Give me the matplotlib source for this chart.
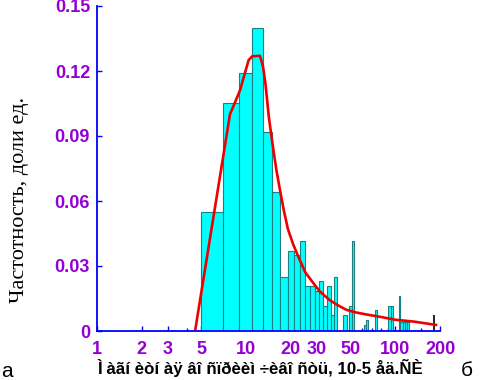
import numpy as np
from matplotlib import pyplot as plt

# histogram bins (left edge, right edge, frequency)
bin_left = [5, 7, 9, 11, 13, 15, 17, 19, 21, 23, 25, 27, 29, 31, 33, 35, 37, 39,
            45, 49, 51.3, 62, 64, 73.5, 89.8, 93.3, 105.5, 108.3, 112.1, 116.7, 121]
bin_right = [7, 9, 11, 13, 15, 17, 19, 21, 23, 25, 27, 29, 31, 33, 35, 37, 39, 41,
             47.5, 51.3, 53.2, 64, 66, 76, 93.3, 97.3, 108.3, 112.1, 116.7, 121, 124.4]
freq = [0.055, 0.105, 0.119, 0.14, 0.092, 0.064, 0.025, 0.037, 0.035, 0.0415,
        0.021, 0.021, 0.0185, 0.023, 0.0115, 0.021, 0.0074, 0.025,
        0.0074, 0.0115, 0.0415, 0.0028, 0.005, 0.0097, 0.0115, 0.0115,
        0.016, 0.004, 0.004, 0.004, 0.004]

# black marker line at the end
mark_x = 183
mark_h = 0.0074

# fitted curve
fit_x = [4.55, 7.8, 9.1, 10.4, 11.0, 12.4, 13.0, 13.5, 14.2, 15.0, 16.0, 17.0, 18.0,
         19.1, 20.7, 22.5, 25, 28, 31, 36, 41, 47, 55, 67, 83, 100, 135, 188]
fit_y = [0, 0.1, 0.111, 0.125, 0.1268, 0.127, 0.122, 0.114, 0.099, 0.087, 0.074,
         0.064, 0.055, 0.047, 0.040, 0.034, 0.027, 0.0225, 0.0185, 0.0145, 0.012,
         0.0098, 0.0085, 0.0074, 0.0063, 0.0052, 0.0043, 0.0028]

xticks = [1, 2, 3, 5, 10, 20, 30, 50, 100, 200]
xtick_labels = ['1', '2', '3', '5', '10', '20', '30', '50', '100', '200']
yticks = [0, 0.03, 0.06, 0.09, 0.12, 0.15]
ytick_labels = ['0', '0.03', '0.06', '0.09', '0.12', '0.15']

xlabel = 'Ì àãí èòí àÿ âî ñïðèèì ÷èâî ñòü, 10-5 åä.ÑÈ'
ylabel = 'Частотность, доли ед.'

purple = '#9400d3'
blue = '#0000ff'

fig = plt.figure(figsize=(4.81, 3.80), dpi=100)
ax = fig.add_axes([97 / 481, 49 / 380, 343 / 481, 325 / 380])

widths = np.array(bin_right) - np.array(bin_left)
ax.bar(bin_left, freq, width=widths, align='edge', color='#00ffff',
       edgecolor='#1a8080', linewidth=0.8, zorder=2)
ax.vlines(mark_x, 0, mark_h, color='black', linewidth=1.2, zorder=3)
ax.plot(fit_x, fit_y, color='#ee0000', linewidth=1.9, zorder=4)

ax.set_xscale('log')
ax.set_xlim(1, 200)
ax.set_ylim(0, 0.15)

ax.set_xticks(xticks)
ax.set_xticklabels(xtick_labels)
minor = [4, 6, 7, 8, 9, 40, 60, 70, 80, 90, 150]
ax.set_xticks(minor, minor=True)
ax.set_xticklabels([], minor=True)
ax.set_yticks(yticks)
ax.set_yticklabels(ytick_labels)

for s in ['top', 'right']:
    ax.spines[s].set_visible(False)
for s in ['left', 'bottom']:
    ax.spines[s].set_color(blue)
    ax.spines[s].set_linewidth(1.3)
    ax.spines[s].set_zorder(5)

ax.tick_params(axis='both', which='both', direction='in', color=blue,
               labelcolor=purple, labelsize=13)
ax.tick_params(axis='both', which='major', length=3.5, width=1)
ax.tick_params(axis='x', which='minor', length=2, width=1)
ax.tick_params(axis='x', which='major', pad=7)
ax.tick_params(axis='y', which='major', pad=5)
for lab in ax.get_xticklabels() + ax.get_yticklabels():
    lab.set_fontweight('bold')
    lab.set_fontfamily('Liberation Sans')

fig.text(260 / 481, 1 - 368 / 380, xlabel, ha='center', va='center',
         fontsize=12.2, fontweight='bold', family='Liberation Sans')
fig.text(20 / 481, 1 - 200 / 380, ylabel, ha='center', va='center',
         rotation=90, fontsize=16, family='Liberation Serif')
fig.text(1 / 481, 1 - 377 / 380, 'а', ha='left', va='baseline',
         fontsize=15, family='Liberation Sans')
fig.text(461 / 481, 1 - 376 / 380, 'б', ha='left', va='baseline',
         fontsize=15, family='Liberation Sans')

fig.savefig('out.png', dpi=100)
